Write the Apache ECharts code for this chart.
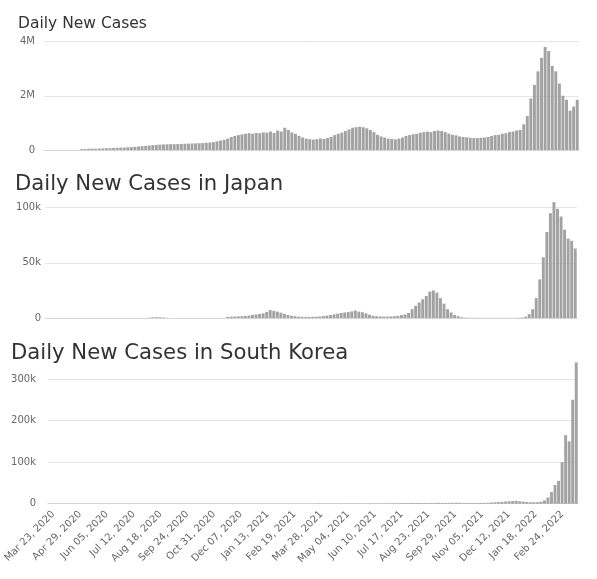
<!DOCTYPE html>
<html>
<head>
<meta charset="utf-8">
<script src="https://cdn.jsdelivr.net/npm/echarts@6/dist/echarts.min.js"></script>
<style>
html,body{margin:0;padding:0;background:#fff;}
#chart{width:597px;height:579px;}
</style>
</head>
<body>
<div id="chart"></div>
<script>
// Daily new cases, in thousands, one value per ~4.9-day bin (150 bins across the date range)
const worldK = [
  0,0,0,0,0,0,0,0,0,0,
  30,
  40,45,50,50,55,60,65,70,75,80,
  85,90,100,105,115,130,140,150,165,180,
  190,200,205,210,215,215,220,225,230,235,
  240,245,250,255,265,275,290,320,350,380,
  420,480,520,550,580,600,620,600,630,620,
  650,640,680,630,720,680,820,740,650,600,
  520,460,420,400,380,400,420,410,440,480,
  550,600,640,700,760,820,840,860,840,800,
  740,660,560,500,460,420,410,390,420,460,
  520,550,580,600,640,660,680,660,700,720,
  700,660,600,560,540,500,480,470,450,440,
  440,450,460,480,520,550,560,600,620,660,
  680,720,740,950,1250,1900,2400,2900,3400,3800,
  3650,3100,2900,2450,2000,1850,1450,1600,1850
];
const japanK = [
  0,0,0,0,0,0,0,0,0,0,0,0,0,0,0,0,0,0,0,0,0,0,0,0,0,0,0,0,0,
  0.4,0.6,0.7,0.6,0.4,0.2,
  0,0,0,0,0,0,0,0,0,0,0,0,0,0,0,0,
  1.0,1.2,1.3,1.5,1.6,1.8,2.2,2.8,3.2,3.6,
  4.2,5.5,7.2,6.5,5.8,4.8,3.8,2.8,2.0,1.6,
  1.3,1.1,1.0,1.0,1.1,1.2,1.4,1.7,2.2,2.7,
  3.3,3.9,4.5,5.0,5.4,6.0,6.8,5.8,5.2,4.2,
  3.0,2.0,1.6,1.4,1.3,1.3,1.4,1.6,2.0,2.6,
  3.2,4.5,8,11,14,17,20,24,25,23,
  18,13,8,5,2.8,1.6,0.7,0.3,0.2,0.2,
  0.2,0.1,0.1,0.1,0.1,0.1,0.1,0.1,0.1,0.1,
  0.1,0.1,0.2,0.4,1.2,3.5,8,18,35,55,
  78,95,105,99,92,80,72,70,63
];
const koreaK = [
  0,0,0,0,0,0,0,0,0,0,0,0,0,0,0,0,0,0,0,0,0,0,0,0,0,
  0,0,0,0,0,0,0,0,0,0,0,0,0,0,0,0,0,0,0,0,0,0,0,0,0,
  0,0,0,0,0,0,0,0,0,0,0,0,0,0,0,0,0,0,0,0,0,0,0,0,0,
  0.5,0.6,0.5,0.4,0.4,0.4,0.4,0.5,0.5,0.6,
  0.6,0.6,0.6,0.5,0.5,0.5,0.6,0.7,0.7,0.6,
  0.6,0.7,0.8,1.0,1.2,1.4,1.5,1.7,1.8,1.8,
  1.7,1.6,1.6,1.7,1.9,2.1,2.0,1.8,1.9,2.2,
  2.5,2.2,1.8,1.7,1.6,1.5,1.8,1.9,2.0,2.4,
  2.8,3.2,3.8,4.5,5.2,6.0,6.5,6.8,5.8,5.0,
  4.2,3.6,3.5,3.8,5.0,8,15,28,45,55,
  100,165,150,250,340
];
const titles = ['Daily New Cases', 'Daily New Cases in Japan', 'Daily New Cases in South Korea'];

// Daily date categories for the x-axis labels
const monthNames = ['Jan','Feb','Mar','Apr','May','Jun','Jul','Aug','Sep','Oct','Nov','Dec'];
const startDay = Date.UTC(2020, 2, 16);
const dayCount = 732;
const firstLabelIndex = 7;   // Mar 23, 2020
const labelStep = 37;
const dayLabels = [];
for (let d = 0; d < dayCount; d++) {
  const dt = new Date(startDay + d * 86400000);
  dayLabels.push(monthNames[dt.getUTCMonth()] + ' ' + String(dt.getUTCDate()).padStart(2, '0') + ', ' + dt.getUTCFullYear());
}
const binLabels = worldK.map((_, i) => 'b' + i);

const FONT = 'DejaVu Sans';
const barColor = '#a2a2a2';
const axisLineColor = '#ccd6eb';
const gridLineColor = '#e6e6e6';

function fmt(v) {
  if (v === 0) return '0';
  if (v >= 1e6) return (v / 1e6) + 'M';
  return (v / 1e3) + 'k';
}

function binAxis(gi, show) {
  return {
    type: 'category', gridIndex: gi, data: binLabels, show: show, boundaryGap: true,
    axisLine: { show: true, lineStyle: { color: axisLineColor, width: 1 } },
    axisTick: { show: false }, axisLabel: { show: false }, splitLine: { show: false }
  };
}
function valAxis(gi, max, interval, margin) {
  return {
    type: 'value', gridIndex: gi, min: 0, max: max, interval: interval,
    axisLine: { show: false }, axisTick: { show: false },
    axisLabel: { color: '#666', fontSize: 10, fontFamily: FONT, margin: margin, formatter: fmt },
    splitLine: { lineStyle: { color: gridLineColor, width: 1 } }
  };
}
function barSeries(idx, arr) {
  return {
    type: 'bar', xAxisIndex: idx, yAxisIndex: idx,
    data: arr.map(v => v * 1000),
    itemStyle: { color: barColor },
    barCategoryGap: '18%', clip: false, silent: true
  };
}

const chart = echarts.init(document.getElementById('chart'), null, { renderer: 'canvas' });
chart.setOption({
  animation: false,
  backgroundColor: '#fff',
  title: [
    { text: titles[0], left: 18, top: 16, padding: 0, textStyle: { fontFamily: FONT, fontSize: 15.5, fontWeight: 'normal', color: '#333' } },
    { text: titles[1], left: 15, top: 174, padding: 0, textStyle: { fontFamily: FONT, fontSize: 21.2, fontWeight: 'normal', color: '#333' } },
    { text: titles[2], left: 11, top: 343, padding: 0, textStyle: { fontFamily: FONT, fontSize: 21.2, fontWeight: 'normal', color: '#333' } }
  ],
  grid: [
    { left: 44, width: 535, top: 41.5, height: 108.5 },
    { left: 45, width: 532, top: 207.7, height: 110.3 },
    { left: 48, width: 530, top: 379, height: 124.7 }
  ],
  xAxis: [
    binAxis(0, true),
    binAxis(1, true),
    binAxis(2, false),
    {
      type: 'category', gridIndex: 2, data: dayLabels, boundaryGap: true, position: 'bottom',
      axisLine: { show: true, lineStyle: { color: axisLineColor, width: 1 } },
      axisTick: { show: false },
      axisLabel: {
        rotate: 45, color: '#666', fontSize: 10, fontFamily: FONT, margin: 9,
        interval: function (i) { return i >= firstLabelIndex && (i - firstLabelIndex) % labelStep === 0; }
      },
      splitLine: { show: false }
    }
  ],
  yAxis: [
    valAxis(0, 4000000, 2000000, 9),
    valAxis(1, 100000, 50000, 4),
    valAxis(2, 300000, 100000, 12)
  ],
  series: [
    barSeries(0, worldK),
    barSeries(1, japanK),
    barSeries(2, koreaK)
  ]
});
</script>
</body>
</html>
